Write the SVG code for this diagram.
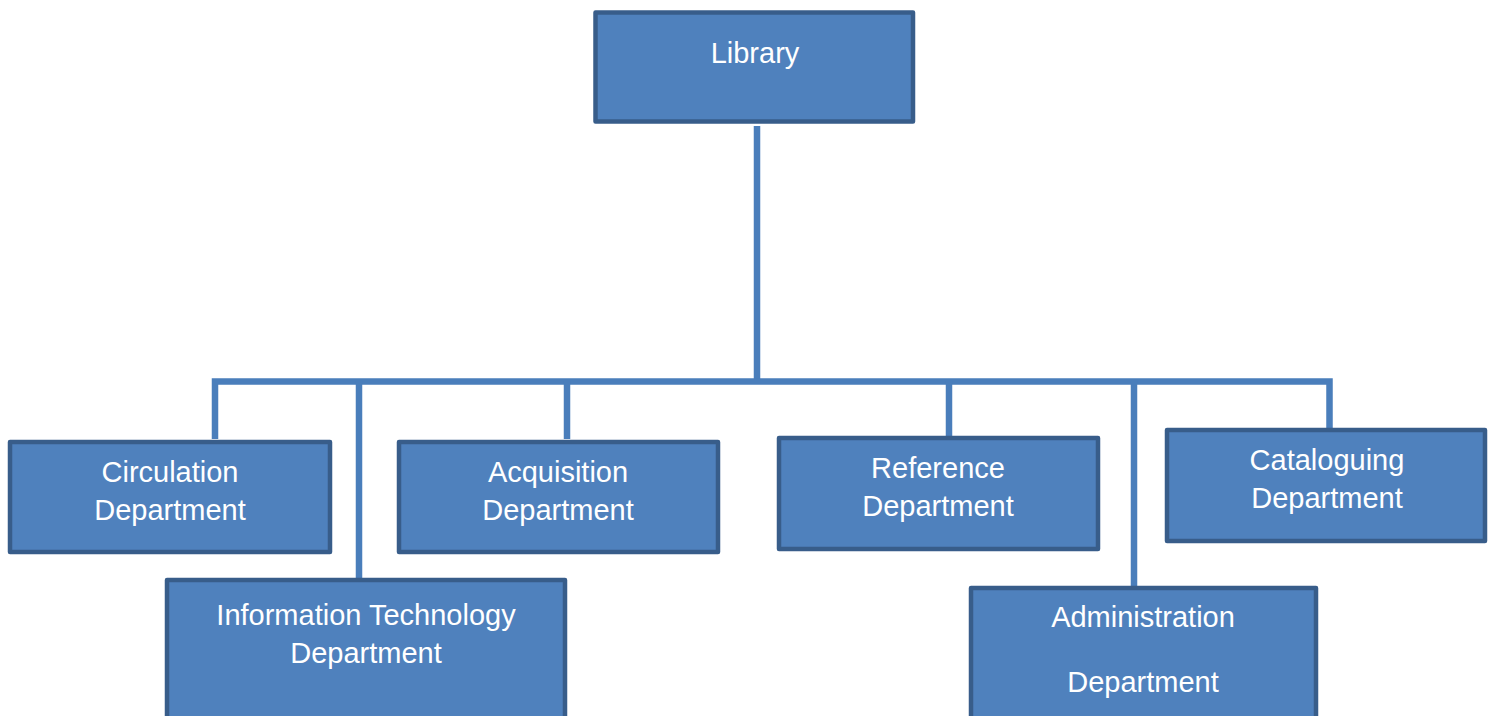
<svg xmlns="http://www.w3.org/2000/svg" width="1488" height="716" viewBox="0 0 1488 716">
<style>
.box{fill:#4F81BD;stroke:#385D8A;stroke-width:4.5;stroke-linejoin:round}
.t{fill:#FFFFFF;font-family:"Liberation Sans",Arial,sans-serif;font-size:29px;text-anchor:middle}
.c{fill:none;stroke:#4A7EBB;stroke-width:6.5}
</style>
<rect width="1488" height="716" fill="#FFFFFF"/>
<g id="connectors">
<line class="c" x1="757" y1="126" x2="757" y2="381"/>
<polyline class="c" points="215,439 215,381.5 1329.5,381.5 1329.5,433"/>
<line class="c" x1="359" y1="381" x2="359" y2="579"/>
<line class="c" x1="567" y1="381" x2="567" y2="439"/>
<line class="c" x1="949" y1="381" x2="949" y2="436"/>
<line class="c" x1="1134" y1="381" x2="1134" y2="587"/>
</g>
<g id="library">
<rect class="box" x="595.5" y="12.5" width="317.5" height="109"/>
<text class="t" x="755" y="63">Library</text>
</g>
<g id="circulation">
<rect class="box" x="10" y="442" width="320" height="110"/>
<text class="t" x="170" y="482">Circulation</text>
<text class="t" x="170" y="520">Department</text>
</g>
<g id="it">
<rect class="box" x="167" y="580" width="398" height="150"/>
<text class="t" x="366" y="625">Information Technology</text>
<text class="t" x="366" y="663">Department</text>
</g>
<g id="acquisition">
<rect class="box" x="399" y="442" width="319" height="110"/>
<text class="t" x="558" y="482">Acquisition</text>
<text class="t" x="558" y="520">Department</text>
</g>
<g id="reference">
<rect class="box" x="779" y="438" width="319" height="111"/>
<text class="t" x="938" y="478">Reference</text>
<text class="t" x="938" y="516">Department</text>
</g>
<g id="administration">
<rect class="box" x="971" y="588" width="345" height="150"/>
<text class="t" x="1143" y="627">Administration</text>
<text class="t" x="1143" y="692">Department</text>
</g>
<g id="cataloguing">
<rect class="box" x="1167" y="430" width="318" height="111"/>
<text class="t" x="1327" y="470">Cataloguing</text>
<text class="t" x="1327" y="508">Department</text>
</g>
</svg>
